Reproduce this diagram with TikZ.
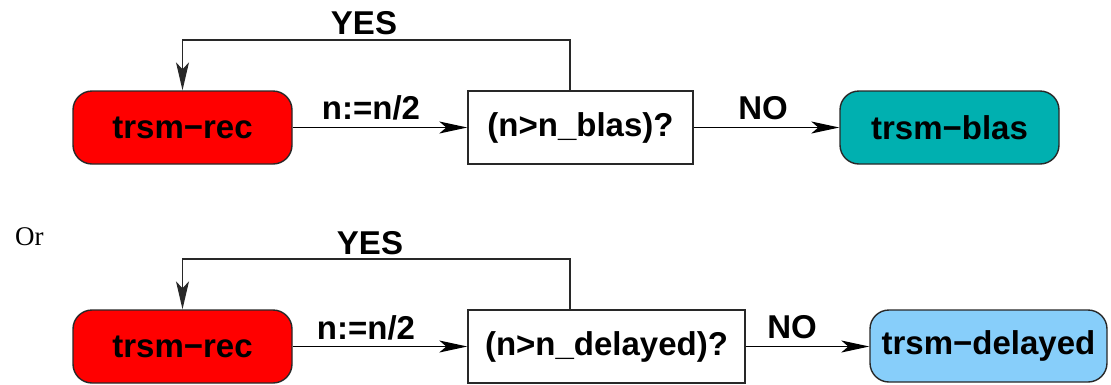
\documentclass[tikz,border=0pt]{standalone}
\usepackage{fontspec}
\newfontfamily\lsans{Liberation Sans}
\newfontfamily\lserif{Liberation Serif}
\usetikzlibrary{arrows.meta}
\definecolor{recred}{RGB}{255,0,0}
\definecolor{blasteal}{RGB}{0,176,176}
\definecolor{delblue}{RGB}{135,206,250}
\definecolor{edge}{RGB}{40,40,40}
\tikzset{
  lbl/.style={font=\lsans\bfseries\fontsize{33}{39}\selectfont, inner sep=0pt},
  procbox/.style={draw=edge, line width=1.4pt, rounded corners=19pt, inner sep=0pt,
    font=\lsans\bfseries\fontsize{33}{39}\selectfont},
  testbox/.style={draw=edge, line width=1.4pt, fill=white, inner sep=0pt,
    font=\lsans\bfseries\fontsize{33}{39}\selectfont},
  arr/.style={line width=1.3pt, draw=black, -{Stealth[length=28pt,width=12pt,inset=7pt]}},
  loop/.style={line width=1.3pt, draw=edge, -{Stealth[length=28pt,width=13pt,inset=7pt]}}
}
\begin{document}
\begin{tikzpicture}[x=1pt,y=-1pt]
\useasboundingbox (0,0) rectangle (1111,384);
% top row
\node[procbox, fill=recred, minimum width=219pt, minimum height=73pt] (recA) at (182.5,127.5) {trsm−rec};
\node[testbox, minimum width=225pt, minimum height=73pt] (decA) at (580.5,127.5) {(n>n\_blas)?};
\node[procbox, fill=blasteal, minimum width=219pt, minimum height=73pt] (blas) at (949.5,127.5) {trsm−blas};
\coordinate (lAr) at (570,40);
\coordinate (lAl) at (182.5,40);
\draw[loop] (decA.north -| lAr) -- (lAr) -- (lAl) -- (recA.north);
\draw[arr] (recA) -- (decA);
\draw[arr] (decA) -- (blas);
\node[lbl, anchor=base] (yesA) at (364,34) {YES};
\node[lbl, anchor=base] (nA) at (371,119) {n:=n/2};
\node[lbl, anchor=base] (noA) at (763,119) {NO};
% Or
\node[font=\lserif\fontsize{27}{32}\selectfont, anchor=base west, inner sep=0pt] (or) at (15,245) {Or};
% bottom row
\node[procbox, fill=recred, minimum width=219pt, minimum height=73pt] (recB) at (182.5,346.5) {trsm−rec};
\node[testbox, minimum width=277pt, minimum height=73pt] (decB) at (606.5,346.5) {(n>n\_delayed)?};
\node[procbox, fill=delblue, minimum width=237pt, minimum height=72pt] (del) at (988.5,346) {trsm−delayed};
\coordinate (lBr) at (570,259);
\coordinate (lBl) at (182.5,259);
\draw[loop] (decB.north -| lBr) -- (lBr) -- (lBl) -- (recB.north);
\draw[arr] (recB.east |- decB) -- (decB);
\draw[arr] (decB) -- (del.west |- decB);
\node[lbl, anchor=base] (yesB) at (370,254) {YES};
\node[lbl, anchor=base] (nB) at (366,339) {n:=n/2};
\node[lbl, anchor=base] (noB) at (792,338) {NO};
\end{tikzpicture}
\end{document}
